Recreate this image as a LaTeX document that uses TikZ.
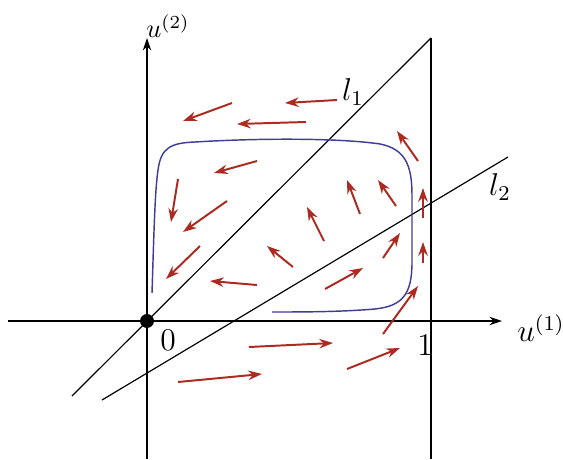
\documentclass[tikz,border=0pt]{standalone}
\usetikzlibrary{arrows.meta}
\definecolor{vec}{RGB}{172,42,32}
\definecolor{orbit}{RGB}{62,62,150}
\begin{document}
\begin{tikzpicture}[x=0.38pt,y=-0.38pt,
  vecarrow/.style={vec, line width=0.75pt, -{Stealth[length=5.2pt,width=3.6pt]}},
  axisline/.style={line width=0.45pt, -{Stealth[length=4.8pt,width=3.2pt]}},
  thinline/.style={line width=0.45pt},
  orbitline/.style={orbit, line width=0.55pt},
  lbl/.style={inner sep=0pt}]
\useasboundingbox (0,0) rectangle (563,459);
% coordinates
\coordinate (xL) at (8,321);
\coordinate (xR) at (502,321);
\coordinate (yB) at (147,459);
\coordinate (yT) at (147,38);
\coordinate (rB) at (431,459);
\coordinate (rT) at (431,38);
\coordinate (lA) at (72,396);
\coordinate (mA) at (102,400);
\coordinate (mB) at (508,157);
% axes and lines
\draw[axisline] (xL) -- (xR);
\draw[axisline] (yB) -- (yT);
\draw[thinline] (rB) -- (rT);
\draw[thinline] (lA) -- (rT);
\draw[thinline] (mA) -- (mB);
\node[circle, fill=black, inner sep=0pt, minimum size=5.3pt] (dot) at (147,321) {};
% orbit
\draw[orbitline] (152,293) .. controls (154,230) and (155,190) .. (158,170)
  .. controls (161,148) and (170,143) .. (195,142)
  .. controls (260,138) and (340,138) .. (380,144)
  .. controls (405,149) and (412,165) .. (412,195)
  -- (412,262)
  .. controls (412,295) and (402,306) .. (375,309)
  .. controls (340,312) and (300,312) .. (272,312);
% vector field
\foreach \a/\b/\c/\d in {
  232/103/183/121, 337/100/285/103, 306/122/237/124, 257/161/214/173,
  178/179/171/222, 227/201/183/232, 200/246/166/279, 257/285/210/281,
  293/267/267/246, 324/241/307/207, 360/214/347/180, 396/206/378/180,
  418/161/397/131, 423/218/423/188, 423/263/423/242, 383/258/400/233,
  325/289/363/268, 383/334/418/286, 249/347/333/343, 347/369/400/348,
  178/382/262/374}
  \draw[vecarrow] (\a,\b) -- (\c,\d);
% labels
\node[lbl] (lu2) at (168,26) {$u^{(2)}$};
\node[lbl] (ll1) at (353,92) {\large $l_1$};
\node[lbl] (ll2) at (500,187) {\large $l_2$};
\node[lbl] (lu1) at (541,328) {\large $u^{(1)}$};
\node[lbl] (l0) at (168,340) {\large $0$};
\node[lbl] (l1n) at (425,345) {\large $1$};
\end{tikzpicture}
\end{document}
